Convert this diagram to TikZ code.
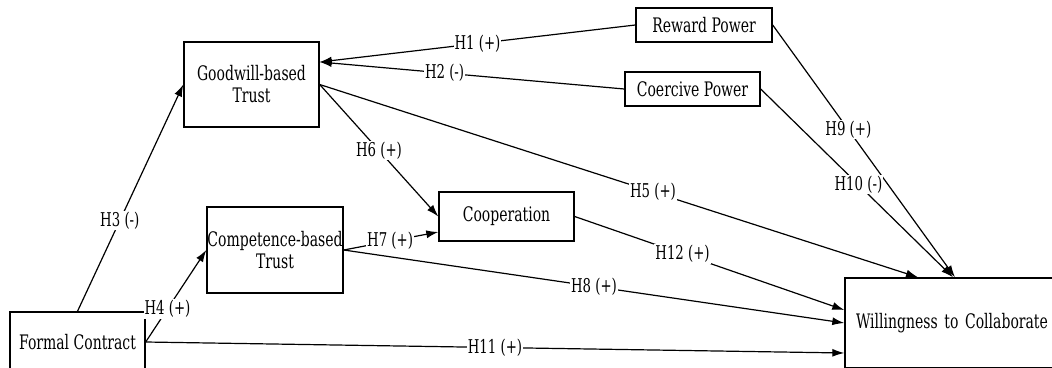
\documentclass[tikz,border=0pt]{standalone}
\usepackage{fontspec}
\setmainfont{DejaVu Serif}[FakeStretch=0.7]
\usetikzlibrary{arrows.meta}
\begin{document}
\begin{tikzpicture}[x=1pt,y=-1pt,
  box/.style={draw=black,line width=1.4pt,inner sep=0pt,align=center,font=\fontsize{20}{22}\selectfont},
  arr/.style={-{Latex[length=12pt,width=8pt]},line width=1.2pt},
  lbl/.style={fill=white,inner sep=1pt,font=\fontsize{19}{21}\selectfont}]
\useasboundingbox (0,0) rectangle (1052,367);
\node[box,minimum width=135pt,minimum height=85pt] (good) at (251.5,84.5) {Goodwill-based\\Trust};
\node[box,minimum width=136pt,minimum height=34pt] (reward) at (704,25) {Reward Power};
\node[box,minimum width=135pt,minimum height=34pt] (coer) at (692.5,89) {Coercive Power};
\node[box,minimum width=136pt,minimum height=86pt] (comp) at (275,250) {Competence-based\\Trust};
\node[box,minimum width=135pt,minimum height=49pt] (coop) at (506.5,216.5) {Cooperation};
\node[box,minimum width=135pt,minimum height=60pt] (formal) at (77.5,342) {Formal Contract};
\node[box,minimum width=215pt,minimum height=90pt,text width=193pt,align=left] (will) at (952.5,323) {Willingness to Collaborate};
\draw[arr] (reward.west) -- node[lbl,pos=0.5]{H1 (+)} ([yshift=22.5pt]good.east);
\draw[arr] (coer.west) -- node[lbl,pos=0.59]{H2 (-)} ([yshift=22.5pt]good.east);
\draw[arr] (formal.north) -- node[lbl,pos=0.4]{H3 (-)} (good.west);
\draw[arr] (formal.east) -- node[lbl,pos=0.36]{H4 (+)} (comp.west);
\draw[arr] (good.east) -- node[lbl,pos=0.557]{H5 (+)} ([xshift=-34.5pt]will.north);
\draw[arr] (good.east) -- node[lbl,pos=0.5]{H6 (+)} (coop.west);
\draw[arr] (comp.east) -- node[lbl,pos=0.49]{H7 (+)} ([yshift=-15.5pt]coop.west);
\draw[arr] (comp.east) -- node[lbl,pos=0.5]{H8 (+)} (will.west);
\draw[arr] (reward.east) -- node[lbl,pos=0.415]{H9 (+)} ([xshift=2.5pt]will.north);
\draw[arr] (coer.east) -- node[lbl,pos=0.508]{H10 (-)} ([xshift=0.5pt]will.north);
\draw[arr] (formal.east) -- node[lbl,pos=0.5]{H11 (+)} ([yshift=-30pt]will.west);
\draw[arr] (coop.east) -- node[lbl,pos=0.4]{H12 (+)} ([yshift=13pt]will.west);
\end{tikzpicture}
\end{document}
